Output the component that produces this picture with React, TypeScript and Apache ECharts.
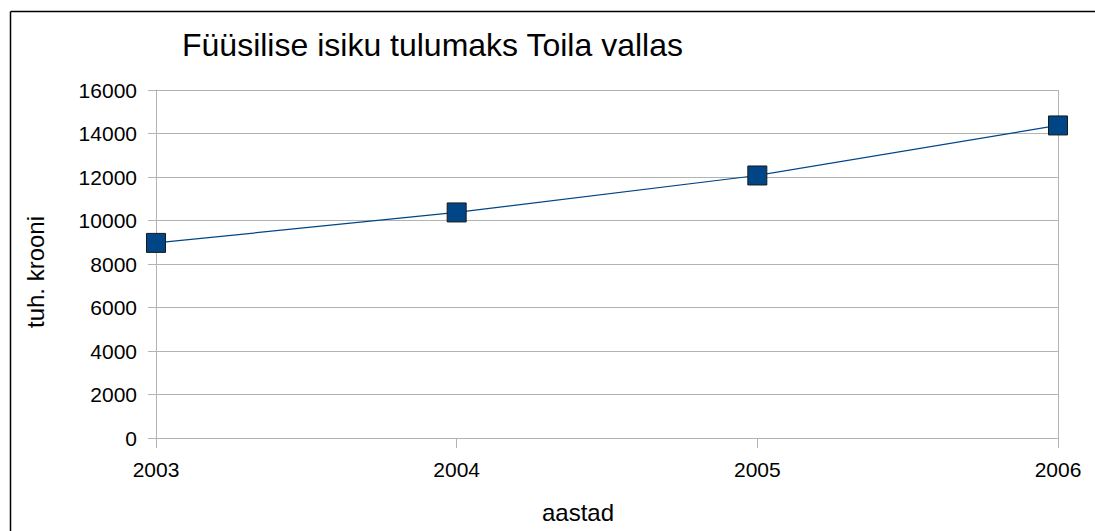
import React, { useEffect, useRef } from "react";
import * as echarts from "echarts";

const years = ["2003", "2004", "2005", "2006"];
const taxValues = [8970, 10370, 12070, 14370];
const titleText = "Füüsilise isiku tulumaks Toila vallas";
const yAxisName = "tuh. krooni";
const xAxisName = "aastad";

export default function App() {
  const ref = useRef<HTMLDivElement>(null);
  useEffect(() => {
    const chart = echarts.init(ref.current!, null, { renderer: "svg" });
    const font = "'Liberation Sans', Arial, sans-serif";
    chart.setOption({
      animation: false,
      backgroundColor: "#ffffff",
      title: {
        text: titleText,
        left: 177,
        top: 24,
        textStyle: { fontFamily: font, fontSize: 32, fontWeight: "normal", color: "#000" },
      },
      graphic: [
        { type: "line", shape: { x1: 10.5, y1: 11.5, x2: 1100, y2: 11.5 }, style: { stroke: "#000", lineWidth: 1.5 } },
        { type: "line", shape: { x1: 10.5, y1: 11.5, x2: 10.5, y2: 540 }, style: { stroke: "#000", lineWidth: 1.5 } },
        {
          type: "text",
          x: 578,
          y: 512,
          style: { text: xAxisName, fontFamily: font, fontSize: 24, fill: "#000", align: "center", verticalAlign: "middle" },
        },
        {
          type: "text",
          x: 35,
          y: 272,
          rotation: Math.PI / 2,
          style: { text: yAxisName, fontFamily: font, fontSize: 24, fill: "#000", align: "center", verticalAlign: "middle" },
        },
      ],
      grid: { left: 156, right: 1095 - 1058, top: 90, bottom: 531 - 438, containLabel: false },
      xAxis: {
        type: "category",
        data: years,
        boundaryGap: false,
        axisLine: { show: true, lineStyle: { color: "#b3b3b3", width: 1 } },
        axisTick: { show: true, length: 10, alignWithLabel: true, lineStyle: { color: "#b3b3b3" } },
        axisLabel: { fontFamily: font, fontSize: 21, color: "#000", margin: 21 },
        splitLine: { show: false },
      },
      yAxis: {
        type: "value",
        min: 0,
        max: 16000,
        interval: 2000,
        axisLine: { show: true, lineStyle: { color: "#b3b3b3", width: 1 } },
        axisTick: { show: true, length: 8, lineStyle: { color: "#b3b3b3" } },
        axisLabel: { fontFamily: font, fontSize: 21, color: "#000", margin: 19, formatter: (v: number) => String(v) },
        splitLine: { show: true, lineStyle: { color: "#b3b3b3", width: 1 } },
      },
      series: [
        {
          type: "line",
          data: taxValues,
          symbol: "rect",
          symbolSize: 19,
          lineStyle: { color: "#004586", width: 1.2 },
          itemStyle: { color: "#004586", borderColor: "#1a1a1a", borderWidth: 1 },
          z: 5,
        },
        {
          type: "line",
          data: [],
          markLine: {
            silent: true,
            symbol: "none",
            label: { show: false },
            lineStyle: { color: "#b3b3b3", type: "solid", width: 1 },
            data: [[{ coord: ["2006", 0] }, { coord: ["2006", 16000] }]],
          },
        },
      ],
    });
    return () => chart.dispose();
  }, []);
  return (
    <div
      ref={ref}
      style={{ position: "fixed", left: 0, top: 0, width: 1095, height: 531 }}
    />
  );
}
